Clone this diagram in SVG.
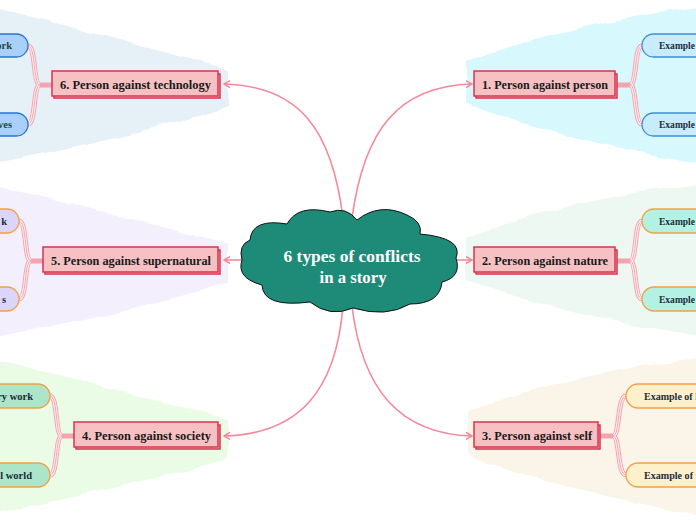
<svg xmlns="http://www.w3.org/2000/svg" width="696" height="520" viewBox="0 0 696 520">
<defs>
<filter id="wavy" x="-5%" y="-5%" width="110%" height="110%">
<feTurbulence type="fractalNoise" baseFrequency="0.04" numOctaves="1" seed="4" result="n"/>
<feDisplacementMap in="SourceGraphic" in2="n" scale="8" xChannelSelector="R" yChannelSelector="G"/>
</filter>
<marker id="arr" viewBox="0 0 8 8" refX="7" refY="4" markerWidth="8" markerHeight="8" markerUnits="userSpaceOnUse" orient="auto">
<path d="M1,0.5 L7,4 L1,7.5" fill="none" stroke="#f4899b" stroke-width="1.5"/>
</marker>
<style>
.bg{filter:url(#wavy);}
.box{fill:#f7c1c4;stroke:#d8354f;stroke-width:1.5;}
.lbl{font-family:"Liberation Serif",serif;font-weight:bold;font-size:12.5px;fill:#1a1a1a;}
.sub{font-family:"Liberation Serif",serif;font-weight:bold;font-size:10.5px;fill:#1c2c3c;}
.con{fill:none;stroke:#f4899b;stroke-width:1.6;}
.b1{fill:none;stroke:#f5a3ae;stroke-width:5;}
.b2{fill:none;stroke:#ffffff;stroke-width:3;opacity:0.85;}
.b3{fill:none;stroke:#f5a3ae;stroke-width:1;}
.stub{fill:none;stroke:#f5a3ae;stroke-width:5;}
.po{stroke:#f3a043;stroke-width:1.3;}
</style>
</defs>
<rect width="696" height="520" fill="#ffffff"/>

<g id="bgs">
<path class="bg" fill="#e6f0f7" d="M228 70 Q140 45 -10 6 L-10 164 Q140 135 228 106 Z"/>
<path class="bg" fill="#f4effc" d="M228 245 Q140 220 -10 183 L-10 338 Q140 310 228 282 Z"/>
<path class="bg" fill="#eafce6" d="M228 420 Q140 395 -10 358 L-10 514 Q140 485 228 458 Z"/>
<path class="bg" fill="#d7f8fc" d="M467 62 Q560 25 706 6 L706 164 Q560 140 467 104 Z"/>
<path class="bg" fill="#eef8f2" d="M467 238 Q560 200 706 183 L706 338 Q560 315 467 280 Z"/>
<path class="bg" fill="#faf5e8" d="M467 412 Q560 375 706 357 L706 516 Q560 490 467 455 Z"/>
</g>

<g id="connectors">
<path class="con" d="M343 218 C332 130 300 86 224 84" marker-end="url(#arr)"/>
<path class="con" d="M352 218 C364 130 398 86 472 84" marker-end="url(#arr)"/>
<path class="con" d="M242 260 L224 260" marker-end="url(#arr)"/>
<path class="con" d="M455 260 L472 260" marker-end="url(#arr)"/>
<path class="con" d="M343 306 C336 390 300 434 224 436" marker-end="url(#arr)"/>
<path class="con" d="M352 306 C362 390 400 434 472 436" marker-end="url(#arr)"/>
<g id="branches">
<path class="stub" d="M52 85 L40 85"/>
<path class="b1" d="M40 85 C33 85 36 46 28 46 M40 85 C33 85 36 124 28 124"/>
<path class="b2" d="M40 85 C33 85 36 46 28 46 M40 85 C33 85 36 124 28 124"/>
<path class="b3" d="M40 85 C33 85 36 46 28 46 M40 85 C33 85 36 124 28 124"/>
<path class="stub" d="M617 85 L630 85"/>
<path class="b1" d="M630 85 C637 85 634 46 642 46 M630 85 C637 85 634 124 642 124"/>
<path class="b2" d="M630 85 C637 85 634 46 642 46 M630 85 C637 85 634 124 642 124"/>
<path class="b3" d="M630 85 C637 85 634 46 642 46 M630 85 C637 85 634 124 642 124"/>
<path class="stub" d="M43 261 L31 261"/>
<path class="b1" d="M31 261 C24 261 27 221 19 221 M31 261 C24 261 27 299 19 299"/>
<path class="b2" d="M31 261 C24 261 27 221 19 221 M31 261 C24 261 27 299 19 299"/>
<path class="b3" d="M31 261 C24 261 27 221 19 221 M31 261 C24 261 27 299 19 299"/>
<path class="stub" d="M617 261 L630 261"/>
<path class="b1" d="M630 261 C637 261 634 221 642 221 M630 261 C637 261 634 299 642 299"/>
<path class="b2" d="M630 261 C637 261 634 221 642 221 M630 261 C637 261 634 299 642 299"/>
<path class="b3" d="M630 261 C637 261 634 221 642 221 M630 261 C637 261 634 299 642 299"/>
<path class="stub" d="M74 436 L62 436"/>
<path class="b1" d="M62 436 C55 436 58 396 50 396 M62 436 C55 436 58 475 50 475"/>
<path class="b2" d="M62 436 C55 436 58 396 50 396 M62 436 C55 436 58 475 50 475"/>
<path class="b3" d="M62 436 C55 436 58 396 50 396 M62 436 C55 436 58 475 50 475"/>
<path class="stub" d="M600 436 L613 436"/>
<path class="b1" d="M613 436 C620 436 617 396 626 396 M613 436 C620 436 617 475 626 475"/>
<path class="b2" d="M613 436 C620 436 617 396 626 396 M613 436 C620 436 617 475 626 475"/>
<path class="b3" d="M613 436 C620 436 617 396 626 396 M613 436 C620 436 617 475 626 475"/>
</g>
</g>

<g id="center">
<path d="M250 240 Q252 218 287 224 Q298 204 330 212 Q346 206 357 220 Q380 202 407 215 Q423 222 420 234 Q464 238 456 258 Q462 277 442 282 Q440 304 410 304 Q386 318 353 308 Q330 318 310 302 Q263 308 262 285 Q236 278 242 260 Q238 245 250 240 Z" fill="#1e8a78" stroke="#111" stroke-width="1"/>
<text x="352" y="262" text-anchor="middle" font-family="Liberation Serif, serif" font-weight="bold" font-size="17" fill="#ffffff" textLength="137" lengthAdjust="spacingAndGlyphs">6 types of conflicts</text>
<text x="353" y="283" text-anchor="middle" font-family="Liberation Serif, serif" font-weight="bold" font-size="17" fill="#ffffff" textLength="67" lengthAdjust="spacingAndGlyphs">in a story</text>
</g>

<g id="node1">
<rect class="box" x="476" y="74" width="141" height="24"/>
<rect class="box" x="474" y="71" width="141" height="25"/>
<text class="lbl" x="482" y="89" textLength="126" lengthAdjust="spacingAndGlyphs">1. Person against person</text>
<rect x="642" y="34" width="80" height="23" rx="11.5" fill="#c8ecfb" stroke="#3d8fd6" stroke-width="1.3"/>
<text class="sub" x="659" y="49" textLength="36" lengthAdjust="spacingAndGlyphs">Example</text>
<rect x="642" y="113" width="80" height="23" rx="11.5" fill="#c8ecfb" stroke="#3d8fd6" stroke-width="1.3"/>
<text class="sub" x="659" y="128" textLength="36" lengthAdjust="spacingAndGlyphs">Example</text>
</g>

<g id="node2">
<rect class="box" x="476" y="250" width="141" height="24"/>
<rect class="box" x="474" y="247" width="141" height="25"/>
<text class="lbl" x="482" y="265" textLength="126" lengthAdjust="spacingAndGlyphs">2. Person against nature</text>
<rect class="po" x="642" y="209" width="80" height="24" rx="12" fill="#b3f2e2"/>
<text class="sub" x="659" y="225" textLength="36" lengthAdjust="spacingAndGlyphs">Example</text>
<rect class="po" x="642" y="287" width="80" height="24" rx="12" fill="#b3f2e2"/>
<text class="sub" x="659" y="303" textLength="36" lengthAdjust="spacingAndGlyphs">Example</text>
</g>

<g id="node3">
<rect class="box" x="476" y="425" width="124" height="24"/>
<rect class="box" x="474" y="422" width="124" height="25"/>
<text class="lbl" x="482" y="440" textLength="110" lengthAdjust="spacingAndGlyphs">3. Person against self</text>
<rect class="po" x="626" y="384" width="100" height="24" rx="12" fill="#fff0cc"/>
<text class="sub" x="644" y="400" textLength="54" lengthAdjust="spacingAndGlyphs">Example of l</text>
<rect class="po" x="626" y="463" width="100" height="24" rx="12" fill="#fff0cc"/>
<text class="sub" x="644" y="479" textLength="56" lengthAdjust="spacingAndGlyphs">Example of r</text>
</g>

<g id="node4">
<rect class="box" x="76" y="425" width="144" height="24"/>
<rect class="box" x="74" y="422" width="144" height="25"/>
<text class="lbl" x="82" y="440" textLength="129" lengthAdjust="spacingAndGlyphs">4. Person against society</text>
<rect class="po" x="-40" y="384" width="90" height="24" rx="12" fill="#ade5c8"/>
<text class="sub" x="33" y="400" text-anchor="end">ry work</text>
<rect class="po" x="-40" y="463" width="90" height="24" rx="12" fill="#ade5c8"/>
<text class="sub" x="32" y="479" text-anchor="end">al world</text>
</g>

<g id="node5">
<rect class="box" x="45" y="250" width="175" height="24"/>
<rect class="box" x="43" y="247" width="175" height="25"/>
<text class="lbl" x="51" y="265" textLength="160" lengthAdjust="spacingAndGlyphs">5. Person against supernatural</text>
<rect class="po" x="-40" y="209" width="59" height="24" rx="12" fill="#dcd5fa"/>
<text class="sub" x="7" y="225" text-anchor="end">k</text>
<rect class="po" x="-40" y="287" width="59" height="24" rx="12" fill="#dcd5fa"/>
<text class="sub" x="6" y="303" text-anchor="end">s</text>
</g>

<g id="node6">
<rect class="box" x="54" y="74" width="166" height="24"/>
<rect class="box" x="52" y="71" width="166" height="25"/>
<text class="lbl" x="60" y="89" textLength="151" lengthAdjust="spacingAndGlyphs">6. Person against technology</text>
<rect x="-40" y="34" width="68" height="23" rx="11.5" fill="#a8d0fb" stroke="#2a73d9" stroke-width="1.3"/>
<text class="sub" x="12" y="49" text-anchor="end" style="fill:#1d4a3a">ork</text>
<rect x="-40" y="113" width="68" height="23" rx="11.5" fill="#a8d0fb" stroke="#2a73d9" stroke-width="1.3"/>
<text class="sub" x="12" y="128" text-anchor="end" style="fill:#1d4a3a">ves</text>
</g>
</svg>
